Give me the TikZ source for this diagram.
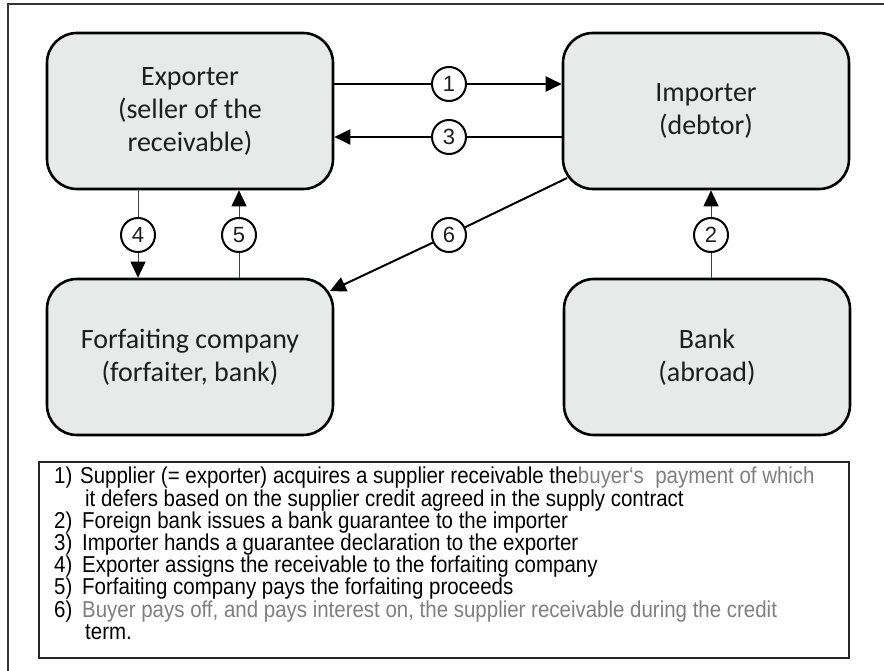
\documentclass[tikz,border=0pt]{standalone}
\usepackage{fontspec}
\newfontfamily\boxfont{Carlito}
\newfontfamily\numfont{Liberation Sans}
\newfontfamily\notefont[FakeStretch=0.89]{Liberation Sans}
\usetikzlibrary{arrows.meta}
\definecolor{boxgray}{HTML}{E8E9E9}
\definecolor{inkgray}{HTML}{1E1E1E}
\definecolor{notegray}{HTML}{7F7F7F}

\begin{document}
\begin{tikzpicture}[x=1pt, y=-1pt,
  party/.style={rectangle, rounded corners=30pt, draw=black, line width=2.6pt, fill=boxgray,
    minimum width=286pt, minimum height=156pt, align=center, text=inkgray,
    font=\boxfont\fontsize{28}{33}\selectfont},
  num/.style={circle, draw=black, line width=2pt, fill=white, minimum size=34pt,
    inner sep=0pt, text=inkgray, font=\numfont\fontsize{22}{22}\selectfont},
  flow/.style={line width=2pt},
  arr/.style={flow, -{Triangle[length=16pt, width=15pt]}},
  thinflow/.style={line width=1pt, draw=black!75},
  thinarr/.style={thinflow, -{Triangle[length=16pt, width=15pt, color=black]}},
  notebox/.style={rectangle, draw=black!85, line width=2.4pt, minimum width=810pt,
    minimum height=196pt},
  notes/.style={align=left, inner sep=0pt, text=black,
    font=\notefont\fontsize{23}{22.2}\selectfont},
]
\useasboundingbox (0,0) rectangle (884,671);
\draw[line width=2.6pt, draw=black!80] (8,4) rectangle (900,690);

% the four parties
\node[party] (exp) at (190,111) {Exporter\\(seller of the\\receivable)};
\node[party] (imp) at (706,111) {Importer\\(debtor)};
\node[party] (forf) at (190,357) {Forfaiting company\\(forfaiter, bank)};
\node[party] (bank) at (707,357) {Bank\\(abroad)};

% numbered steps
\node[num] (n1) at (449,84) {1};
\node[num] (n3) at (449,137) {3};
\node[num] (n4) at (138,235) {4};
\node[num] (n5) at (239,235) {5};
\node[num] (n6) at (449,235) {6};
\node[num] (n2) at (711,235) {2};

\draw[flow] (exp.east |- n1) -- (n1);
\draw[arr] (n1) -- (imp.west |- n1);
\draw[flow] (imp.west |- n3) -- (n3);
\draw[arr] (n3) -- (exp.east |- n3);
\draw[thinflow] (exp.south -| n4) -- (n4);
\draw[thinarr] (n4) -- (forf.north -| n4);
\draw[thinflow] (forf.north -| n5) -- (n5);
\draw[thinarr] (n5) -- (exp.south -| n5);
\draw[thinflow] (bank.north -| n2) -- (n2);
\draw[thinarr] (n2) -- (imp.south -| n2);
\draw[flow, shorten <=-6pt] (imp) -- (n6);
\draw[arr, shorten >=-5pt] (n6) -- (forf);

% legend
\node[notebox] (legbox) at (444,560) {};
\node[notes, anchor=north west] (legend) at (54,467) {%
  \makebox[26pt][l]{1)}Supplier (= exporter) acquires a supplier receivable the\textcolor{notegray}{buyer‘s\ \ payment of which}\\
  \hspace*{31pt}it defers based on the supplier credit agreed in the supply contract\\
  \makebox[28pt][l]{2)}Foreign bank issues a bank guarantee to the importer\\
  \makebox[28pt][l]{3)}Importer hands a guarantee declaration to the exporter\\
  \makebox[28pt][l]{4)}Exporter assigns the receivable to the forfaiting company\\
  \makebox[28pt][l]{5)}Forfaiting company pays the forfaiting proceeds\\
  \makebox[28pt][l]{6)}\textcolor{notegray}{Buyer pays off, and pays interest on, the supplier receivable during the credit}\\
  \hspace*{31pt}term.};
\end{tikzpicture}
\end{document}
